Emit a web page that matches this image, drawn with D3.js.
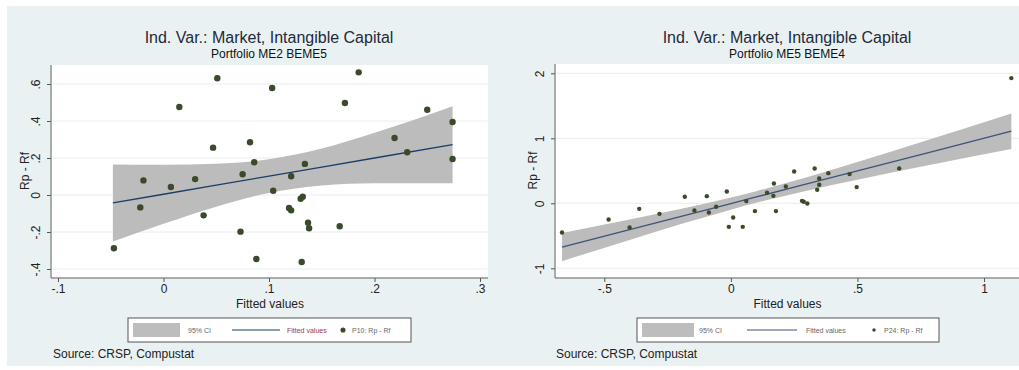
<!DOCTYPE html>
<html>
<head>
<meta charset="utf-8">
<script src="https://cdn.jsdelivr.net/npm/d3@7"></script>
<style>
  html, body { margin: 0; padding: 0; background: #ffffff; }
  svg { display: block; font-family: "Liberation Sans", Arial, sans-serif; }
</style>
</head>
<body>
<svg id="chart" width="1019" height="370"></svg>
<script>
// ---- Portfolio ME2 BEME5 (P10) ----
const p10X = [-0.047,-0.022,-0.019,0.007,0.015,0.030,0.038,0.047,0.051,0.073,
              0.075,0.082,0.086,0.088,0.103,0.104,0.121,0.119,0.121,0.132,
              0.130,0.134,0.131,0.137,0.138,0.167,0.172,0.185,0.219,0.231,
              0.250,0.274,0.274];
const p10Y = [-0.288,-0.067,0.079,0.043,0.476,0.086,-0.110,0.256,0.631,-0.198,
              0.112,0.285,0.177,-0.346,0.578,0.023,0.101,-0.070,-0.083,-0.009,
              -0.020,0.168,-0.362,-0.150,-0.180,-0.169,0.497,0.663,0.308,0.231,
              0.461,0.395,0.195];
const p10FitX = [-0.048, 0, 0.05, 0.1, 0.15, 0.2, 0.274];
const p10FitY = [-0.043, 0.004, 0.053, 0.102, 0.151, 0.200, 0.272];
const p10CiLo = [-0.251, -0.156, -0.063, 0.011, 0.051, 0.064, 0.064];
const p10CiHi = [0.165, 0.164, 0.169, 0.193, 0.251, 0.336, 0.480];
const p10XTicks = [-0.1, 0, 0.1, 0.2, 0.3];
const p10XLabels = ["-.1", "0", ".1", ".2", ".3"];
const p10YTicks = [-0.4, -0.2, 0, 0.2, 0.4, 0.6];
const p10YLabels = ["-.4", "-.2", "0", ".2", ".4", ".6"];

// ---- Portfolio ME5 BEME4 (P24) ----
const p24X = [-0.667,-0.483,-0.400,-0.362,-0.282,-0.182,-0.144,-0.095,-0.087,-0.058,
              -0.016,-0.008,0.009,0.047,0.061,0.095,0.143,0.170,0.168,0.178,
              0.217,0.250,0.281,0.288,0.302,0.331,0.341,0.349,0.349,0.385,
              0.469,0.497,0.665,1.108];
const p24Y = [-0.449,-0.249,-0.372,-0.085,-0.162,0.100,-0.110,0.110,-0.141,-0.054,
              0.182,-0.362,-0.218,-0.362,0.034,-0.120,0.162,0.305,0.115,-0.120,
              0.259,0.490,0.038,0.023,-0.003,0.535,0.208,0.285,0.382,0.464,
              0.449,0.249,0.535,1.926];
const p24FitX = [-0.667, -0.4, -0.2, 0, 0.1, 0.3, 0.5, 0.8, 1.108];
const p24FitY = [-0.674, -0.406, -0.205, -0.004, 0.097, 0.298, 0.499, 0.800, 1.109];
const p24CiLo = [-0.891, -0.563, -0.324, -0.098, 0.007, 0.194, 0.362, 0.599, 0.835];
const p24CiHi = [-0.457, -0.249, -0.087, 0.090, 0.187, 0.401, 0.635, 1.001, 1.383];
const p24XTicks = [-0.5, 0, 0.5, 1];
const p24XLabels = ["-.5", "0", ".5", "1"];
const p24YTicks = [-1, 0, 1, 2];
const p24YLabels = ["-1", "0", "1", "2"];

const svg = d3.select("#chart");

// Graph background
svg.append("rect").attr("x", 7).attr("y", 6).attr("width", 1012).attr("height", 360)
  .attr("fill", "#eaf1f2");

function drawPanel(cfg) {
  const g = svg.append("g");
  const x = d3.scaleLinear().domain(cfg.xDomain).range(cfg.xRange);
  const y = d3.scaleLinear().domain(cfg.yDomain).range(cfg.yRange);
  const r = cfg.region;
  const cx = (r.x0 + r.x1) / 2;

  // Plot region
  g.append("rect").attr("x", r.x0).attr("y", r.y0)
    .attr("width", r.x1 - r.x0).attr("height", r.y1 - r.y0).attr("fill", "#ffffff");

  // Horizontal grid lines
  g.selectAll(".grid").data(cfg.yTicks).join("line")
    .attr("x1", r.x0).attr("x2", r.x1)
    .attr("y1", d => y(d)).attr("y2", d => y(d))
    .attr("stroke", "#e6eeef").attr("stroke-width", 1);

  // Confidence band
  const band = cfg.fitX.map((v, i) => ({ x: v, lo: cfg.ciLo[i], hi: cfg.ciHi[i] }));
  g.append("path").datum(band)
    .attr("d", d3.area().x(d => x(d.x)).y0(d => y(d.lo)).y1(d => y(d.hi)).curve(d3.curveMonotoneX))
    .attr("fill", "#bcbcbc");

  // Fitted line
  const fit = cfg.fitX.map((v, i) => ({ x: v, y: cfg.fitY[i] }));
  g.append("path").datum(fit)
    .attr("d", d3.line().x(d => x(d.x)).y(d => y(d.y)))
    .attr("fill", "none").attr("stroke", cfg.lineColor).attr("stroke-width", 1.3);

  // Observations
  const pts = cfg.px.map((v, i) => ({ x: v, y: cfg.py[i] }));
  g.selectAll(".pt").data(pts).join("circle")
    .attr("cx", d => x(d.x)).attr("cy", d => y(d.y)).attr("r", cfg.dotR)
    .attr("fill", "#3b4a2a");

  // Axes
  const xAxis = d3.axisBottom(x).tickValues(cfg.xTicks).tickSize(4)
    .tickFormat((d, i) => cfg.xLabels[i]);
  const gx = g.append("g").attr("transform", `translate(0,${r.y1 + 1})`).call(xAxis);
  gx.select(".domain").remove();
  gx.selectAll(".tick line").attr("stroke", "#555");
  gx.selectAll(".tick text").attr("fill", "#222").attr("font-size", 12).attr("y", 6).attr("dy", "0.72em");
  g.append("line").attr("x1", r.x0 - 1).attr("x2", r.x1).attr("y1", r.y1 + 1).attr("y2", r.y1 + 1)
    .attr("stroke", "#666").attr("stroke-width", 1);

  const yAxis = d3.axisLeft(y).tickValues(cfg.yTicks).tickSize(4)
    .tickFormat((d, i) => cfg.yLabels[i]);
  const gy = g.append("g").attr("transform", `translate(${r.x0 - 1},0)`).call(yAxis);
  gy.select(".domain").remove();
  gy.selectAll(".tick line").attr("stroke", "#555");
  gy.selectAll(".tick text").attr("fill", "#222").attr("font-size", 12)
    .attr("x", 0).attr("dy", 0)
    .attr("text-anchor", "middle")
    .attr("transform", "translate(-11,0) rotate(-90)");
  g.append("line").attr("x1", r.x0 - 1).attr("x2", r.x0 - 1).attr("y1", r.y0).attr("y2", r.y1 + 1)
    .attr("stroke", "#666").attr("stroke-width", 1);

  // Titles
  g.append("text").attr("x", cfg.titleX).attr("y", 43).attr("text-anchor", "middle")
    .attr("font-size", 16).attr("fill", "#1f2a3a").text("Ind. Var.: Market, Intangible Capital");
  g.append("text").attr("x", cfg.titleX).attr("y", 58).attr("text-anchor", "middle")
    .attr("font-size", 12).attr("fill", "#111").text(cfg.subtitle);

  // Axis titles
  g.append("text").attr("transform", `translate(${cfg.yTitleX},${(r.y0 + r.y1) / 2}) rotate(-90)`)
    .attr("text-anchor", "middle").attr("font-size", 12).attr("fill", "#222").text("Rp - Rf");
  g.append("text").attr("x", cx).attr("y", 308).attr("text-anchor", "middle")
    .attr("font-size", 12).attr("fill", "#222").text("Fitted values");

  // Legend
  const L = cfg.legend;
  const lg = g.append("g").attr("transform", `translate(${L.x},318)`);
  lg.append("rect").attr("width", L.w).attr("height", 24)
    .attr("fill", "#ffffff").attr("stroke", "#555").attr("stroke-width", 1);
  lg.append("rect").attr("x", 5).attr("y", 5).attr("width", L.sw).attr("height", 14).attr("fill", "#bdbdbd");
  lg.append("text").attr("x", L.t1).attr("y", 15).attr("font-size", 7).attr("fill", "#666").text("95% CI");
  lg.append("line").attr("x1", L.l0).attr("x2", L.l1).attr("y1", 12).attr("y2", 12)
    .attr("stroke", cfg.lineColor).attr("stroke-width", 1.2);
  lg.append("text").attr("x", L.t2).attr("y", 15).attr("font-size", 7).attr("fill", cfg.fitLabelColor).text("Fitted values");
  lg.append("circle").attr("cx", L.d).attr("cy", 12).attr("r", cfg.dotR * 0.8).attr("fill", "#3b4a2a");
  lg.append("text").attr("x", L.t3).attr("y", 15).attr("font-size", 7).attr("fill", "#666").text(cfg.seriesLabel);

  // Source note
  g.append("text").attr("x", cfg.sourceX).attr("y", 358).attr("font-size", 12).attr("fill", "#222")
    .text("Source: CRSP, Compustat");
}

drawPanel({
  px: p10X, py: p10Y, fitX: p10FitX, fitY: p10FitY, ciLo: p10CiLo, ciHi: p10CiHi,
  xTicks: p10XTicks, xLabels: p10XLabels, yTicks: p10YTicks, yLabels: p10YLabels,
  xDomain: [-0.1, 0.3], xRange: [58, 480],
  yDomain: [-0.4, 0.6], yRange: [269, 84],
  region: { x0: 52, x1: 488, y0: 65, y1: 277 },
  titleX: 269, yTitleX: 29, subtitle: "Portfolio ME2 BEME5",
  lineColor: "#1a3f66", dotR: 3.2, fitLabelColor: "#9a3a44",
  seriesLabel: "P10: Rp - Rf", sourceX: 53,
  legend: { x: 128, w: 283, sw: 47, t1: 60, l0: 104, l1: 152, t2: 159, d: 215, t3: 224 }
});

drawPanel({
  px: p24X, py: p24Y, fitX: p24FitX, fitY: p24FitY, ciLo: p24CiLo, ciHi: p24CiHi,
  xTicks: p24XTicks, xLabels: p24XLabels, yTicks: p24YTicks, yLabels: p24YLabels,
  xDomain: [-0.5, 1], xRange: [604.3, 984],
  yDomain: [-1, 2], yRange: [268.3, 73.3],
  region: { x0: 556, x1: 1019, y0: 64, y1: 277 },
  titleX: 787, yTitleX: 537, subtitle: "Portfolio ME5 BEME4",
  lineColor: "#3d5478", dotR: 2.2, fitLabelColor: "#666",
  seriesLabel: "P24: Rp - Rf", sourceX: 556,
  legend: { x: 637, w: 302, sw: 52, t1: 62, l0: 110, l1: 160, t2: 169, d: 237, t3: 247 }
});
</script>
</body>
</html>
